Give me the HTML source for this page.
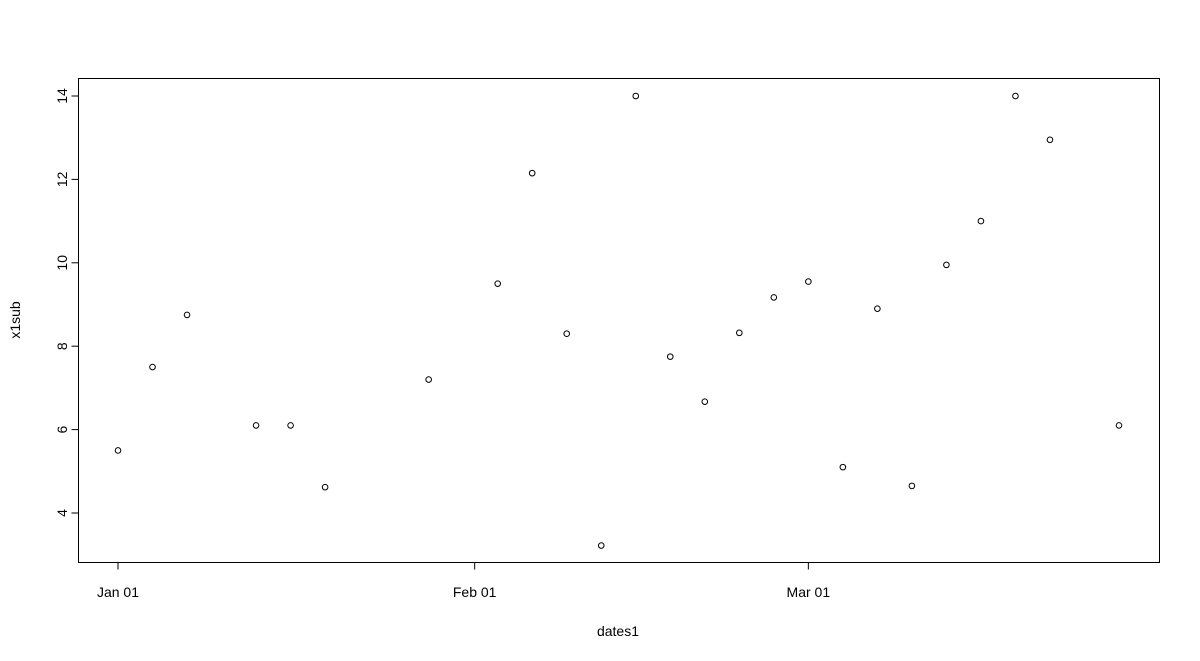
<!DOCTYPE html>
<html><head><meta charset="utf-8"><style>
body{margin:0;background:#fff;}
svg{display:block;font-family:"Liberation Sans",Arial,sans-serif;}
</style></head><body>
<svg id="chart" width="1200" height="661">
<rect x="78.5" y="78.5" width="1081" height="484" fill="none" stroke="#000" stroke-width="1"/>
<g id="marks"></g>
<g id="axes"></g>
<text x="618" y="636" font-size="14" text-anchor="middle">dates1</text>
<text x="0" y="0" font-size="14" text-anchor="middle" transform="translate(20,320) rotate(-90)">x1sub</text>
</svg>
<script>
const days = [0,3,6,12,15,18,27,33,36,39,42,45,48,51,54,57,60,63,66,69,72,75,78,81,87];
const values = [5.5,7.5,8.75,6.1,6.1,4.62,7.2,9.5,12.15,8.3,3.22,14.0,7.75,6.67,8.32,9.17,9.55,5.1,8.9,4.65,9.95,11.0,14.0,12.95,6.1];
const xTickDays = [0,31,60];
const xTickLabels = ["Jan 01","Feb 01","Mar 01"];
const yTicks = [4,6,8,10,12,14];
const NS="http://www.w3.org/2000/svg";
const xs=d=>118+d*(1001/87);
const ys=v=>513-(v-4)*(417/10);
const marks=document.getElementById('marks'), axes=document.getElementById('axes');
function mk(tag,attrs,parent){const e=document.createElementNS(NS,tag);for(const k in attrs)e.setAttribute(k,attrs[k]);parent.appendChild(e);return e;}
days.forEach((d,i)=>{
  const c=mk('circle',{cx:xs(d),cy:ys(values[i]),r:2.8,fill:'none',stroke:'#000','stroke-width':1},marks);
  
  
});
// x axis
let l=mk('line',{x1:xs(xTickDays[0]),x2:xs(xTickDays[xTickDays.length-1]),y1:562.5,y2:562.5,stroke:'#000'},axes);


xTickDays.forEach((d,i)=>{
  const t=mk('line',{x1:xs(d),x2:xs(d),y1:562.5,y2:569.5,stroke:'#000'},axes);
  
  
  const tx=mk('text',{x:xs(d),y:597,'font-size':14,'text-anchor':'middle'},axes);
  tx.textContent=xTickLabels[i];
  
  
});
// y axis
l=mk('line',{x1:78.5,x2:78.5,y1:ys(yTicks[0]),y2:ys(yTicks[yTicks.length-1]),stroke:'#000'},axes);


yTicks.forEach(v=>{
  const t=mk('line',{x1:71.5,x2:78.5,y1:ys(v),y2:ys(v),stroke:'#000'},axes);
  
  
  const tx=mk('text',{x:0,y:0,'font-size':14,'text-anchor':'middle',transform:`translate(67,${ys(v)}) rotate(-90)`},axes);
  tx.textContent=v;
  
  
});
</script>
</body></html>
